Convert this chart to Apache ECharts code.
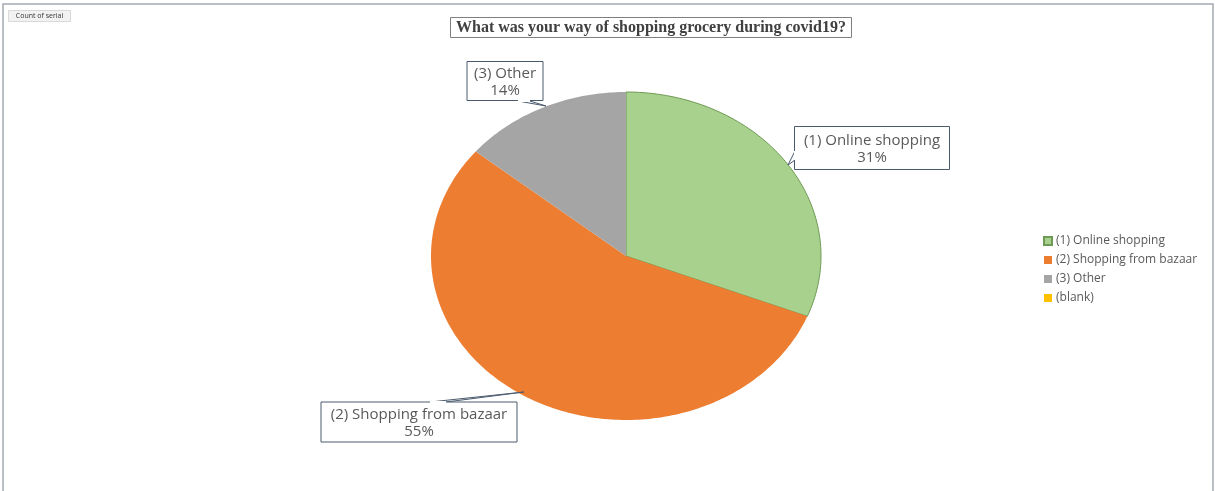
<!DOCTYPE html>
<html>
<head>
<meta charset="utf-8">
<script src="https://cdn.jsdelivr.net/npm/echarts@6/dist/echarts.min.js"></script>
<style>
  html, body { margin: 0; padding: 0; background: #ffffff; }
  #chart { width: 1215px; height: 491px; }
</style>
</head>
<body>
<div id="chart"></div>
<script>
// Survey answers (share of respondents, %)
const categories = ['(1) Online shopping', '(2) Shopping from bazaar', '(3) Other', '(blank)'];
const shares = [31, 55, 14, 0];

const sliceColors = ['#a9d18e', '#ed7d31', '#a5a5a5', '#ffc000'];

// Elliptical pie placement (in the hidden axes' units, which equal pixels)
const PIE = { cx: 626, cy: 256, rx: 195, ry: 164 };

// Callout boxes: box centre/size and the point on the slice the tail reaches
const callouts = [
  { x: 872, y: 148, w: 155, h: 43, tail: [[795, 151], [788, 165], [795, 160]] },
  { x: 419, y: 422, w: 196, h: 40, tail: [[430, 402], [524, 392], [446, 402]] },
  { x: 505, y: 81,  w: 76,  h: 39, tail: [[518, 101], [546, 106], [530, 101]] },
  null
];

const total = shares.reduce((a, b) => a + b, 0);

function startAngle(i) {
  let s = 0;
  for (let k = 0; k < i; k++) s += shares[k];
  return s / total * Math.PI * 2;
}

function makeRenderer(i) {
  return function (params, api) {
    const value = api.value(0);
    if (!value) return { type: 'group', children: [] };
    const a0 = startAngle(i);
    const a1 = a0 + value / total * Math.PI * 2;
    const pts = [api.coord([PIE.cx, PIE.cy])];
    const steps = Math.max(8, Math.ceil((a1 - a0) / (Math.PI / 180)));
    for (let s = 0; s <= steps; s++) {
      const a = a0 + (a1 - a0) * s / steps;
      pts.push(api.coord([PIE.cx + PIE.rx * Math.sin(a), PIE.cy - PIE.ry * Math.cos(a)]));
    }
    const children = [{
      type: 'polygon',
      shape: { points: pts },
      style: {
        fill: sliceColors[i],
        stroke: i === 0 ? '#6f9a55' : null,
        lineWidth: i === 0 ? 1 : 0
      }
    }];
    const c = callouts[i];
    if (c) {
      const p = api.coord([c.x, c.y]);
      const tail = c.tail.map(t => api.coord(t));
      children.push({
        type: 'polygon',
        shape: { points: tail },
        style: { fill: '#ffffff', stroke: '#4a5a6e', lineWidth: 1 },
        z2: 5
      });
      children.push({
        type: 'rect',
        shape: { x: p[0] - c.w / 2, y: p[1] - c.h / 2, width: c.w, height: c.h },
        style: { fill: '#ffffff', stroke: '#4a5a6e', lineWidth: 1 },
        z2: 6
      });
      // cover the tail's base so the wedge joins the box cleanly
      children.push({
        type: 'polyline',
        shape: { points: [tail[0], tail[2]] },
        style: { stroke: '#ffffff', lineWidth: 2 },
        z2: 7
      });
      children.push({
        type: 'text',
        x: p[0], y: p[1] + 1,
        style: {
          text: categories[i] + '\n' + Math.round(value / total * 100) + '%',
          fill: '#595959',
          font: '15px "Open Sans", sans-serif',
          align: 'center',
          verticalAlign: 'middle',
          lineHeight: 17
        },
        z2: 8
      });
    }
    return { type: 'group', children: children };
  };
}

const series = categories.map((name, i) => ({
  name: name,
  type: 'custom',
  coordinateSystem: 'cartesian2d',
  renderItem: makeRenderer(i),
  data: [[shares[i]]],
  encode: { x: -1, y: -1 },
  itemStyle: {
    color: sliceColors[i],
    borderColor: i === 0 ? '#6f9a55' : sliceColors[i],
    borderWidth: i === 0 ? 1 : 0
  },
  silent: true,
  clip: false
}));

const chart = echarts.init(document.getElementById('chart'), null, { renderer: 'canvas' });
chart.setOption({
  animation: false,
  backgroundColor: '#ffffff',
  title: {
    text: 'What was your way of shopping grocery during covid19?',
    left: 450,
    top: 17,
    padding: [3, 6, 2, 6],
    borderColor: '#7f7f7f',
    borderWidth: 1,
    textStyle: {
      fontFamily: '"Liberation Serif", "DejaVu Serif", serif',
      fontWeight: 'bold',
      fontSize: 16,
      color: '#404040'
    }
  },
  legend: {
    orient: 'vertical',
    left: 1038,
    top: 230,
    itemWidth: 8,
    itemHeight: 8,
    itemGap: 7,
    icon: 'rect',
    data: categories,
    textStyle: { color: '#595959', fontSize: 12, fontFamily: '"Open Sans", sans-serif', padding: [0, 0, 0, -1] }
  },
  grid: { left: 0, right: 0, top: 0, bottom: 0 },
  xAxis: { type: 'value', min: 0, max: 1215, show: false },
  yAxis: { type: 'value', min: 0, max: 491, inverse: true, show: false },
  graphic: [
    {
      type: 'rect',
      shape: { x: 3, y: 4, width: 1210, height: 500 },
      style: { fill: null, stroke: '#a3abb3', lineWidth: 1.5 },
      silent: true
    },
    {
      type: 'group',
      left: 8,
      top: 10,
      children: [
        {
          type: 'rect',
          shape: { x: 0, y: 0, width: 62, height: 11 },
          style: { fill: '#f2f2f2', stroke: '#d9d9d9', lineWidth: 1 }
        },
        {
          type: 'text',
          x: 31, y: 5.5,
          style: {
            text: 'Count of serial',
            fill: '#333333',
            font: '7px "Open Sans", sans-serif',
            align: 'center',
            verticalAlign: 'middle'
          }
        }
      ]
    }
  ],
  series: series
});
</script>
</body>
</html>
